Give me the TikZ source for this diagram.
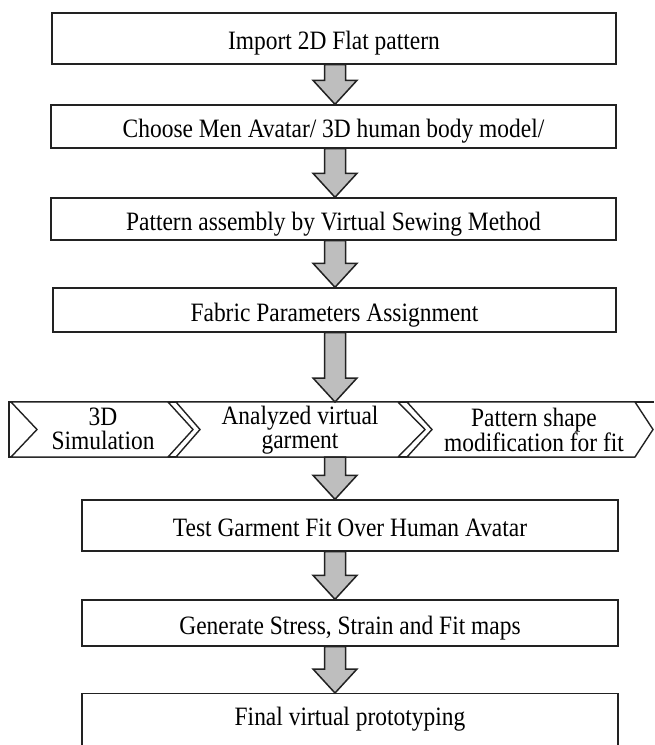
\documentclass[tikz,border=0pt]{standalone}
\usepackage{fontspec}
\setmainfont{Liberation Serif}[FakeStretch=0.885]
\usetikzlibrary{calc}
\definecolor{linec}{HTML}{222222}
\definecolor{arrfill}{HTML}{BEBEBE}
\newcommand\flowarrow[2]{%
  \draw[fatarr] let \p1=(#1), \p2=(#2) in
    (\x1-10.5pt,\y1) -- (\x1-10.5pt,\y2+24pt) -- (\x1-22pt,\y2+24pt) --
    (\x1,\y2) -- (\x1+22pt,\y2+24pt) -- (\x1+10.5pt,\y2+24pt) --
    (\x1+10.5pt,\y1) -- cycle;}
\begin{document}
\begin{tikzpicture}[x=1pt,y=-1pt,
  box/.style={draw=linec, line width=1.4pt, fill=white, inner sep=0pt,
    text height=25pt, text depth=3pt,
    font=\fontsize{26.5pt}{24pt}\selectfont, text=black},
  chev/.style={draw=linec, line width=1.4pt, fill=white, line join=miter},
  lbl/.style={font=\fontsize{26.5pt}{24.5pt}\selectfont, align=center,
    inner sep=0pt, text=black},
  fatarr/.style={draw=linec, line width=1.5pt, fill=arrfill, line join=miter}]
\useasboundingbox (0,0) rectangle (654,745);

% boxes
\node[box, minimum width=564pt, minimum height=51pt] (b1) at (334,38.5) {Import 2D Flat pattern};
\node[box, minimum width=565pt, minimum height=43pt] (b2) at (333.5,126.5) {Choose Men Avatar/ 3D human body model/};
\node[box, minimum width=565pt, minimum height=42pt] (b3) at (333.5,219) {Pattern assembly by Virtual Sewing Method};
\node[box, minimum width=563pt, minimum height=44pt] (b4) at (334.5,310) {Fabric Parameters Assignment};
\node[box, minimum width=536pt, minimum height=51pt] (b5) at (350,525.5) {Test Garment Fit Over Human Avatar};
\node[box, minimum width=536pt, minimum height=46pt] (b6) at (350,623) {Generate Stress, Strain and Fit maps};
\node[box, anchor=north, minimum width=536pt, text height=32pt, text depth=50pt] (b7) at (350,693) {Final virtual prototyping};

% chevron band
\draw[chev, fill=none] (635,457) -- (9,457) -- (9,402) -- (654,402);
\draw[chev] (11,402) -- (168,402) -- (193,429.5) -- (168,457) -- (11,457) -- (37,429.5) -- cycle;
\draw[chev] (176,402) -- (398,402) -- (425,429.5) -- (398,457) -- (176,457) -- (200,429.5) -- cycle;
\draw[chev] (407,402) -- (635,402) -- (653,429.5) -- (635,457) -- (407,457) -- (432,429.5) -- cycle;
\node[lbl] (t1) at (103,429) {3D\\Simulation};
\node[lbl] (t2) at (300,430) {Analyzed virtual\\garment};
\node[lbl] (t3) at (534,430) {Pattern shape\\modification for fit};

\coordinate (ax) at (335,0);
\coordinate (bandtop) at (335,402);
\coordinate (bandbot) at (335,457);

% arrows
\flowarrow{b1.south -| ax}{b2.north -| ax}
\flowarrow{b2.south -| ax}{b3.north -| ax}
\flowarrow{b3.south -| ax}{b4.north -| ax}
\flowarrow{b4.south -| ax}{bandtop}
\flowarrow{bandbot}{b5.north -| ax}
\flowarrow{b5.south -| ax}{b6.north -| ax}
\flowarrow{b6.south -| ax}{b7.north -| ax}
\end{tikzpicture}
\end{document}
